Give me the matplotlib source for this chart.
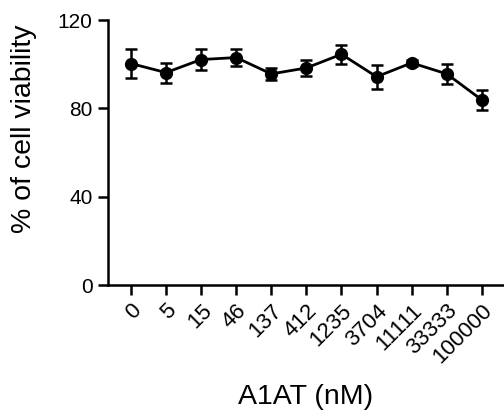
import matplotlib
matplotlib.use("Agg")
import matplotlib.pyplot as plt
import numpy as np

plt.rcParams['font.family'] = ['Liberation Sans', 'DejaVu Sans']

concentrations = ['0', '5', '15', '46', '137', '412', '1235', '3704', '11111', '33333', '100000']
viability = [100.3, 96.2, 102.1, 103.0, 95.6, 98.3, 104.5, 94.3, 100.6, 95.6, 83.8]
sem = [6.5, 4.5, 4.6, 4.0, 2.8, 3.8, 4.2, 5.5, 1.2, 4.7, 4.7]

fig = plt.figure(figsize=(5.04, 4.17), dpi=100)
ax = fig.add_axes([0.214, 0.3165, 0.786, 0.6355])

x = np.arange(len(concentrations))
ax.errorbar(x, viability, yerr=sem, color='black', linewidth=2,
            marker='o', markersize=8.5, capsize=4, capthick=1.8,
            elinewidth=1.8)

ax.set_xlim(-0.656, 10.63)
ax.set_ylim(0, 120)
ax.set_yticks([0, 40, 80, 120])
ax.set_xticks(x)
ax.set_xticklabels(concentrations, rotation=45, ha='right',
                   rotation_mode='anchor')

for side in ['top', 'right']:
    ax.spines[side].set_visible(False)
for side in ['left', 'bottom']:
    ax.spines[side].set_linewidth(1.8)
ax.tick_params(axis='both', width=1.8, length=7, labelsize=15, pad=4)
ax.tick_params(axis='x', labelsize=16)

ax.set_xlabel('A1AT (nM)', fontsize=20.5, labelpad=12)
ax.set_ylabel('% of cell viability', fontsize=20.5)
ax.yaxis.set_label_coords(-0.18, 0.589)

fig.savefig('out.png', dpi=100)
